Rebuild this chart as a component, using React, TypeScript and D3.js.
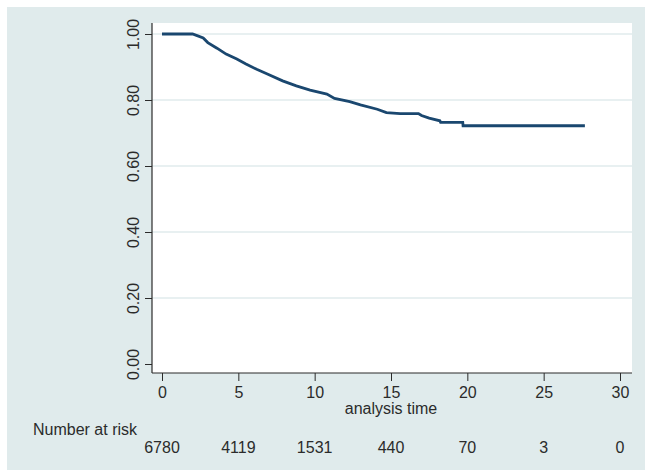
import React, { useRef, useEffect } from "react";
import * as d3 from "d3";

// Kaplan-Meier estimate
const times = [0, 2.0, 2.3, 2.7, 3.0, 3.6, 4.2, 4.9, 5.5, 6.2, 6.9, 7.9, 8.8, 9.7, 10.8, 11.3, 12.3, 13.0, 14.1, 14.7, 15.6, 16.8, 17.0, 17.5, 18.2, 18.25, 19.7, 19.72, 27.7];
const survival = [1, 1, 0.995, 0.988, 0.974, 0.957, 0.939, 0.924, 0.909, 0.893, 0.879, 0.858, 0.843, 0.83, 0.818, 0.805, 0.795, 0.785, 0.772, 0.762, 0.759, 0.759, 0.753, 0.745, 0.737, 0.732, 0.732, 0.722, 0.722];

const xTicks = [0, 5, 10, 15, 20, 25, 30];
const yTicks = [0, 0.2, 0.4, 0.6, 0.8, 1.0];
const atRisk = [6780, 4119, 1531, 440, 70, 3, 0];

const App = () => {
  const svgRef = useRef<SVGSVGElement>(null);

  useEffect(() => {
    const svg = d3.select(svgRef.current);
    svg.selectAll("*").remove();

    const width = 645;
    const height = 470;
    const bg = "#e0ebec";
    const ink = "#2b2b2b";
    const font = "'Liberation Sans', Arial, sans-serif";
    const fs = "16px";

    // plot region box
    const plot = { left: 152, right: 632, top: 23, bottom: 373 };

    const x = d3.scaleLinear().domain([0, 30]).range([162, 620]);
    const y = d3.scaleLinear().domain([0, 1]).range([364, 34]);

    // graph region
    svg.append("rect")
      .attr("x", 7).attr("y", 7)
      .attr("width", width - 7).attr("height", height - 7)
      .attr("fill", bg);

    svg.append("rect")
      .attr("x", plot.left).attr("y", plot.top)
      .attr("width", plot.right - plot.left).attr("height", plot.bottom - plot.top)
      .attr("fill", "#fff");

    // gridlines (none at zero)
    svg.append("g")
      .selectAll("line")
      .data(yTicks.filter((t) => t > 0))
      .join("line")
      .attr("x1", plot.left).attr("x2", plot.right)
      .attr("y1", (d) => y(d)).attr("y2", (d) => y(d))
      .attr("stroke", bg)
      .attr("stroke-width", 1.5);

    // survivor curve
    const line = d3.line<number>()
      .x((d, i) => x(times[i]))
      .y((d) => y(d));

    svg.append("path")
      .datum(survival)
      .attr("d", line)
      .attr("fill", "none")
      .attr("stroke", "#1a476f")
      .attr("stroke-width", 2.8);

    // y axis
    const yAxis = svg.append("g")
      .attr("transform", `translate(${plot.left},0)`)
      .call(d3.axisLeft(y).tickValues(yTicks).tickFormat(d3.format(".2f")).tickSize(7));
    yAxis.select(".domain").remove();
    yAxis.selectAll(".tick line").attr("stroke", ink);
    yAxis.selectAll(".tick text")
      .attr("transform", "rotate(-90)")
      .attr("x", 0)
      .attr("y", -13)
      .attr("dy", 0)
      .attr("text-anchor", "middle")
      .attr("fill", ink)
      .style("font-family", font)
      .style("font-size", fs);
    svg.append("line")
      .attr("x1", plot.left).attr("x2", plot.left)
      .attr("y1", plot.top).attr("y2", plot.bottom)
      .attr("stroke", ink).attr("stroke-width", 1.2);

    // x axis
    const xAxis = svg.append("g")
      .attr("transform", `translate(0,${plot.bottom})`)
      .call(d3.axisBottom(x).tickValues(xTicks).tickSize(8));
    xAxis.select(".domain").remove();
    xAxis.selectAll(".tick line").attr("stroke", ink);
    xAxis.selectAll(".tick text")
      .attr("y", 25)
      .attr("dy", 0)
      .attr("fill", ink)
      .style("font-family", font)
      .style("font-size", fs);
    svg.append("line")
      .attr("x1", plot.left).attr("x2", plot.right)
      .attr("y1", plot.bottom).attr("y2", plot.bottom)
      .attr("stroke", ink).attr("stroke-width", 1.2);

    svg.append("text")
      .attr("x", x(15))
      .attr("y", 414)
      .attr("text-anchor", "middle")
      .attr("fill", ink)
      .style("font-family", font)
      .style("font-size", fs)
      .text("analysis time");

    // risk table
    svg.append("text")
      .attr("x", 33)
      .attr("y", 435)
      .attr("fill", ink)
      .style("font-family", font)
      .style("font-size", fs)
      .text("Number at risk");

    svg.append("g")
      .selectAll("text")
      .data(atRisk)
      .join("text")
      .attr("x", (d, i) => x(xTicks[i]))
      .attr("y", 453)
      .attr("text-anchor", "middle")
      .attr("fill", ink)
      .style("font-family", font)
      .style("font-size", fs)
      .text((d) => d);
  }, []);

  return (
    <svg
      ref={svgRef}
      width={645}
      height={470}
      style={{ position: "absolute", left: 0, top: 0 }}
    ></svg>
  );
};

export default App;
